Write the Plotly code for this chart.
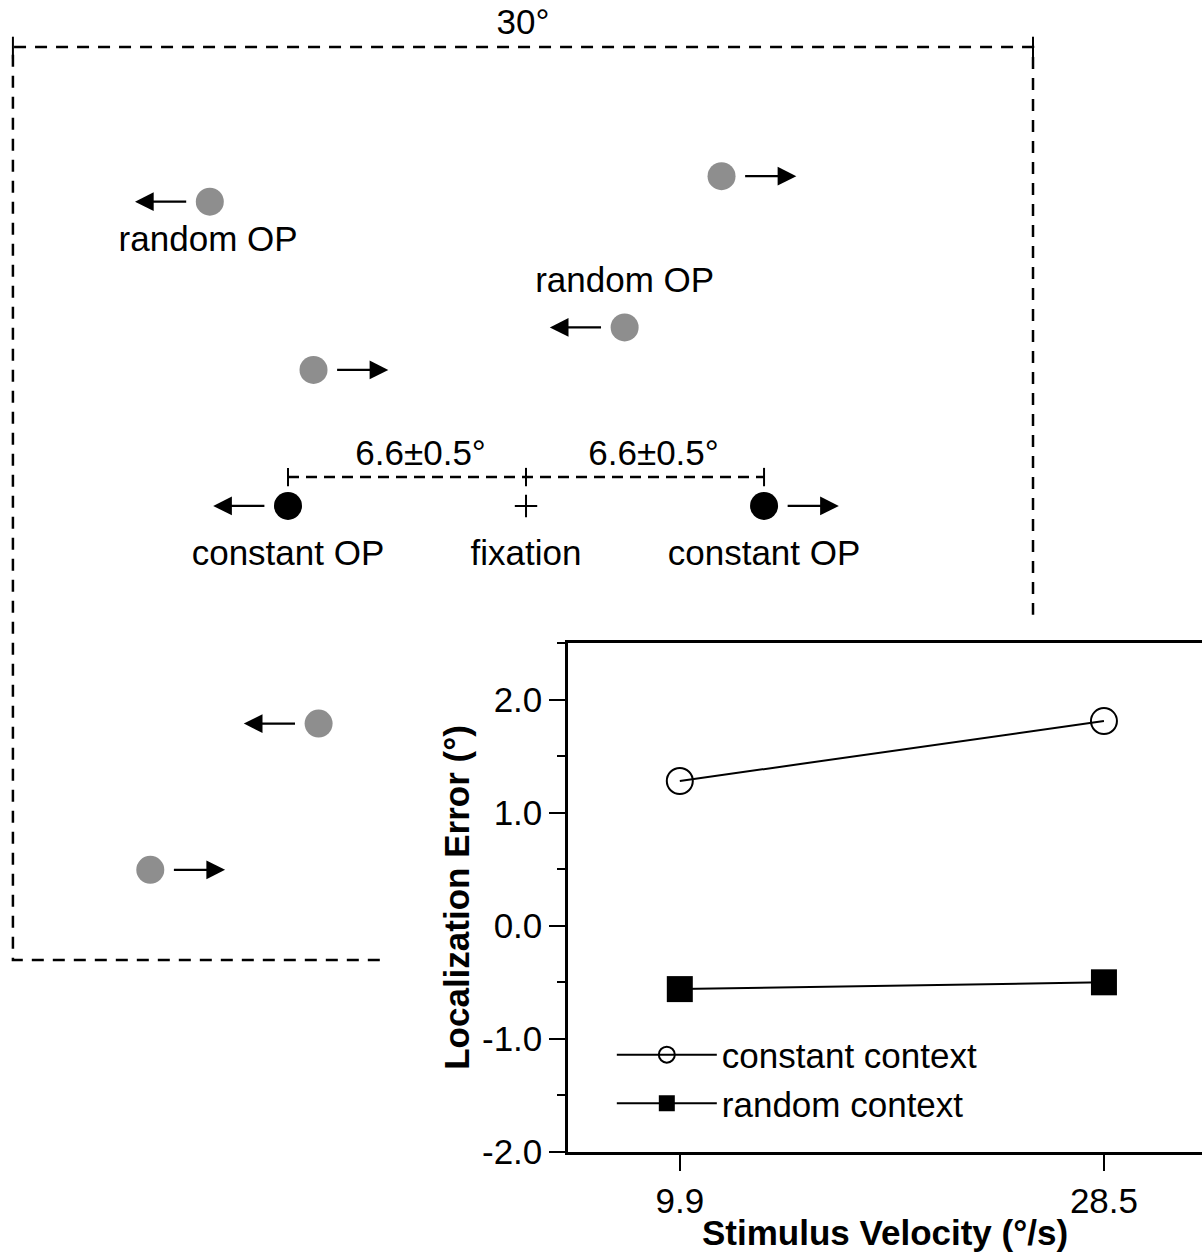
import plotly.graph_objects as go

# ---------------- inset chart data ----------------
velocity = [9.9, 28.5]
velocity_labels = ["9.9", "28.5"]
constant_context = [1.28, 1.81]
random_context = [-0.56, -0.50]
error_ticks = [-2, -1, 0, 1, 2]
error_tick_labels = ["-2.0", "-1.0", "0.0", "1.0", "2.0"]

# ---------------- stimulus diagram data (degrees, fixation at 0,0) ----------------
random_op_x = [-9.3, 5.75, 2.9, -6.25, -6.1, -11.05]
random_op_y = [8.95, 9.7, 5.25, 4.0, -6.4, -10.7]
random_op_dir = [-1, 1, -1, 1, -1, 1]
constant_op_x = [-7.0, 7.0]
constant_op_y = [0.0, 0.0]
constant_op_dir = [-1, 1]
fixation_x = [0.0]
fixation_y = [0.0]
label_text = ["random OP", "random OP", "constant OP", "fixation", "constant OP"]
label_x = [-9.35, 2.9, -7.0, 0.0, 7.0]
label_y = [7.75, 6.55, -1.47, -1.47, -1.47]
distance_text = ["6.6±0.5°", "6.6±0.5°"]
distance_x = [-3.1, 3.75]
distance_y = [1.47, 1.47]
field_text = ["30°"]
field_left = -15.09
field_right = 14.91
field_top = 13.5
field_bottom = -13.35
frame_bottom_end = -4.3
frame_right_end = -3.2
measure_y = 0.85

FONT = "Liberation Sans, Arial, Helvetica, sans-serif"
FS = 35
GRAY = "#8e8e8e"

fig = go.Figure()

# dashed 30 deg frame
fig.add_trace(go.Scatter(
    x=[frame_bottom_end, field_left, field_left, field_right, field_right],
    y=[field_bottom, field_bottom, field_top, field_top, frame_right_end],
    mode="lines", line=dict(color="black", width=2.5, dash="12px,9px"),
    showlegend=False, hoverinfo="skip", xaxis="x", yaxis="y"))
# solid end ticks of the 30 deg span
fig.add_trace(go.Scatter(
    x=[field_left, field_left, None, field_right, field_right],
    y=[field_top + 0.3, field_top - 0.35, None, field_top + 0.3, field_top - 0.35],
    mode="lines", line=dict(color="black", width=2),
    showlegend=False, hoverinfo="skip", xaxis="x", yaxis="y"))
# dashed measurement line between constant OPs
fig.add_trace(go.Scatter(
    x=[constant_op_x[0], constant_op_x[1]], y=[measure_y, measure_y],
    mode="lines", line=dict(color="black", width=2.5, dash="11px,7px"),
    showlegend=False, hoverinfo="skip", xaxis="x", yaxis="y"))
tx, ty = [], []
for xv in [constant_op_x[0], fixation_x[0], constant_op_x[1]]:
    tx += [xv, xv, None]
    ty += [measure_y + 0.27, measure_y - 0.27, None]
fig.add_trace(go.Scatter(
    x=tx, y=ty, mode="lines", line=dict(color="black", width=2),
    showlegend=False, hoverinfo="skip", xaxis="x", yaxis="y"))

# dots
fig.add_trace(go.Scatter(
    x=random_op_x, y=random_op_y, mode="markers",
    marker=dict(color=GRAY, size=28, line=dict(width=0)),
    showlegend=False, hoverinfo="skip", xaxis="x", yaxis="y"))
fig.add_trace(go.Scatter(
    x=constant_op_x, y=constant_op_y, mode="markers",
    marker=dict(color="black", size=28, line=dict(width=0)),
    showlegend=False, hoverinfo="skip", xaxis="x", yaxis="y"))
fig.add_trace(go.Scatter(
    x=fixation_x, y=fixation_y, mode="markers",
    marker=dict(symbol="cross-thin", size=16, line=dict(color="black", width=2)),
    showlegend=False, hoverinfo="skip", xaxis="x", yaxis="y"))

# labels
fig.add_trace(go.Scatter(
    x=label_x + distance_x + [(field_left + field_right) / 2],
    y=label_y + distance_y + [field_top + 0.65],
    text=label_text + distance_text + field_text,
    mode="text", textposition="middle center",
    textfont=dict(family=FONT, size=FS, color="black"),
    showlegend=False, hoverinfo="skip", xaxis="x", yaxis="y"))

# motion arrows
GAP = 0.65
LEN = 1.55
for xs, ys, ds in [(random_op_x, random_op_y, random_op_dir),
                   (constant_op_x, constant_op_y, constant_op_dir)]:
    for xv, yv, d in zip(xs, ys, ds):
        fig.add_annotation(
            x=xv + d * (GAP + LEN), y=yv, ax=xv + d * GAP, ay=yv,
            xref="x", yref="y", axref="x", ayref="y",
            text="", showarrow=True, arrowhead=2, arrowsize=1.7,
            arrowwidth=2.2, arrowcolor="black", standoff=0, startstandoff=0)

# ---------------- inset chart ----------------
fig.add_trace(go.Scatter(
    x=velocity, y=constant_context, mode="lines+markers", name="constant context",
    line=dict(color="black", width=2),
    marker=dict(symbol="circle-open", size=26, color="black", line=dict(width=2)),
    xaxis="x2", yaxis="y2"))
fig.add_trace(go.Scatter(
    x=velocity, y=random_context, mode="lines+markers", name="random context",
    line=dict(color="black", width=2),
    marker=dict(symbol="square", size=26, color="black"),
    xaxis="x2", yaxis="y2"))

fig.update_layout(
    template="none",
    width=1202, height=1252,
    margin=dict(l=0, r=0, t=0, b=0),
    paper_bgcolor="white", plot_bgcolor="white",
    font=dict(family=FONT, size=FS, color="black"),
    showlegend=True,
    legend=dict(x=0.509, y=0.181, xanchor="left", yanchor="top",
                bgcolor="rgba(0,0,0,0)", borderwidth=0,
                font=dict(family=FONT, size=FS, color="black"),
                itemwidth=100, tracegroupgap=0),
    xaxis=dict(domain=[0, 1], range=[-15.47, 19.88], visible=False, fixedrange=True),
    yaxis=dict(domain=[0, 1], range=[-21.94, 14.88], visible=False, fixedrange=True),
    xaxis2=dict(domain=[0.4726, 1.0], anchor="y2", range=[5.0, 32.8],
                tickvals=velocity, ticktext=velocity_labels,
                ticks="outside", ticklen=16, tickwidth=2, tickcolor="black",
                showline=True, linewidth=2.5, linecolor="black", mirror=True,
                showgrid=False, zeroline=False,
                tickfont=dict(family=FONT, size=FS, color="black"),
                title=dict(text="<b>Stimulus Velocity (°/s)</b>", standoff=4,
                           font=dict(family=FONT, size=FS, color="black"))),
    yaxis2=dict(domain=[0.0799, 0.4864], anchor="x2", range=[-2.0, 2.5],
                tickvals=error_ticks, ticktext=error_tick_labels,
                ticks="outside", ticklen=16, tickwidth=2, tickcolor="black",
                minor=dict(dtick=0.5, tick0=0, ticks="outside", ticklen=8,
                           tickwidth=2, tickcolor="black", showgrid=False),
                showline=True, linewidth=2.5, linecolor="black", mirror=False,
                showgrid=False, zeroline=False,
                tickfont=dict(family=FONT, size=FS, color="black"),
                title=dict(text="<b>Localization Error (°)</b>", standoff=2,
                           font=dict(family=FONT, size=FS, color="black"))),
)

fig.write_html("out.html", config={"displayModeBar": False},
               post_script="document.body.style.margin='0';document.body.style.overflow='hidden';")
